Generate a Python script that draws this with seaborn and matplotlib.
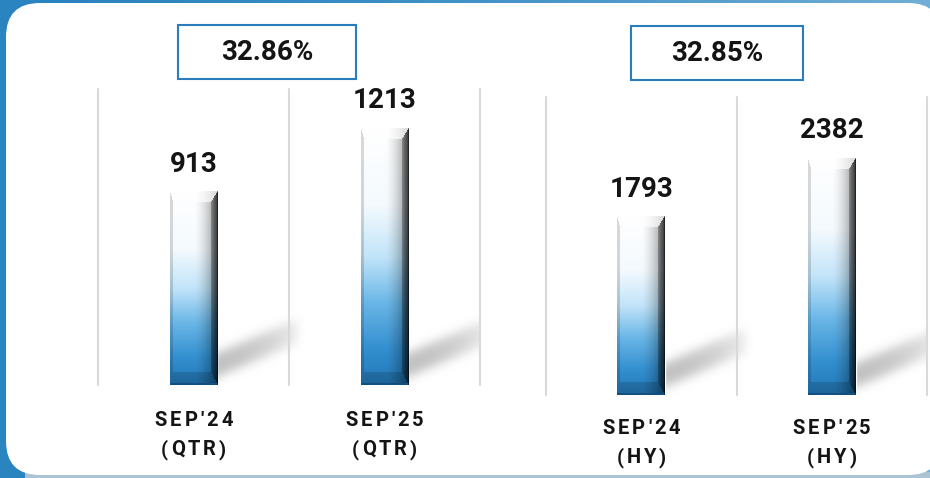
import numpy as np
import pandas as pd
import matplotlib
matplotlib.use("Agg")
import matplotlib.pyplot as plt
from matplotlib.colors import to_rgb
from matplotlib.patches import FancyBboxPatch, Rectangle
import seaborn as sns

# ---- data -------------------------------------------------------------
qtr_labels = ["SEP'24", "SEP'25"]
qtr_periods = ["(QTR)", "(QTR)"]
qtr_values = [913, 1213]

hy_labels = ["SEP'24", "SEP'25"]
hy_periods = ["(HY)", "(HY)"]
hy_values = [1793, 2382]

# ---- figure -----------------------------------------------------------
W, H, DPI = 930, 478, 100
sns.set_theme(style="white")
plt.rcParams["font.family"] = ["Roboto", "DejaVu Sans"]

fig = plt.figure(figsize=(W / DPI, H / DPI), dpi=DPI)

# full-figure pixel canvas for the frame, panel and growth boxes
bg = fig.add_axes([0, 0, 1, 1], zorder=-5)
bg.set_xlim(0, W)
bg.set_ylim(H, 0)
bg.set_axis_off()
ramp = np.linspace(0, 1, 256)[None, :, None] ** 1.6
c0, c1 = np.array(to_rgb("#2a84bf")), np.array(to_rgb("#72aed6"))
bg.imshow(c0 + (c1 - c0) * ramp, extent=(0, W, H, 0), aspect="auto", zorder=0)
bg.set_xlim(0, W)
bg.set_ylim(H, 0)
bg.add_patch(Rectangle((25, 472), W, 8, fc="#aac4d6", ec="none", zorder=1))
bg.add_patch(FancyBboxPatch((6, 3), 936, 472,
                            boxstyle="round,pad=0,rounding_size=34",
                            fc="white", ec="none", zorder=2))


def px_axes(x0, x1, ytop, ybot):
    return fig.add_axes([x0 / W, 1 - ybot / H, (x1 - x0) / W, (ybot - ytop) / H])


FACE_STOPS = [0.0, 0.30, 0.50, 0.68, 0.86, 1.0]
FACE_COLS = ["#ffffff", "#f4fafe", "#c2e4f9", "#6ab6e7", "#338fcf", "#2277b6"]


def bar_image(h, w):
    """Bevelled glass-style bar face, h x w pixels."""
    yy = (np.arange(h) + 0.5)[:, None] * np.ones((1, w))
    xx = np.ones((h, 1)) * (np.arange(w) + 0.5)[None, :]
    v = yy / h
    u = xx / w
    cols = np.array([to_rgb(c) for c in FACE_COLS])
    face = np.stack([np.interp(v, FACE_STOPS, cols[:, k]) for k in range(3)], axis=-1)
    shade = 1 - 0.45 * np.clip((u - 0.5) / 0.5, 0, 1) ** 1.6
    face = face * shade[..., None]

    bl, br, bt, bb = 3.0, 7.0, 11.0, 13.0
    d = np.stack([xx / bl, (w - xx) / br, yy / bt, (h - yy) / bb])
    k = d.argmin(0)
    m = d.min(0)
    out = face.copy()
    edge = m < 1
    sel = edge & (k == 0)
    out[sel] = face[sel] * 0.85
    sel = edge & (k == 1)
    out[sel] = face[sel] * (0.38 + 0.35 * m[sel])[:, None]
    sel = edge & (k == 2)
    out[sel] = face[sel] * 0.35 + 0.65
    sel = edge & (k == 3)
    out[sel] = face[sel] * 0.85
    out[-2:, :] = np.array(to_rgb("#134f80"))
    out[:, -1:] = out[:, -1:] * 0.6
    return np.clip(out, 0, 1)


def blur(a, sigma):
    r = int(3 * sigma)
    t = np.arange(-r, r + 1)
    k = np.exp(-0.5 * (t / sigma) ** 2)
    k /= k.sum()
    a = np.apply_along_axis(lambda s: np.convolve(s, k, mode="same"), 0, a)
    a = np.apply_along_axis(lambda s: np.convolve(s, k, mode="same"), 1, a)
    return a


def shadow_image(wpx, hpx, x_bar):
    """Soft diagonal floor shadow; x_bar = bar's right edge column."""
    yy = np.arange(hpx)[:, None] + 0.5
    xx = np.arange(wpx)[None, :] + 0.5
    dx = xx - x_bar
    centre = (hpx - 22) - 0.42 * dx
    band = (np.abs(yy - centre) < 12) & (dx > -8) & (dx < 82)
    alpha = blur(band.astype(float), 5.0) * 0.42
    alpha *= np.clip(1 - (np.clip(dx, 0, None) / 95) ** 2, 0, 1)
    img = np.zeros((hpx, wpx, 4))
    img[..., :3] = 0.42
    img[..., 3] = alpha
    return img


def spaced_text(x_px, y_px, s, size, gap):
    """Letter-spaced bold text centred on x_px with baseline at y_px (image px)."""
    renderer = fig.canvas.get_renderer()
    widths = []
    for ch in s:
        t = fig.text(0, 0, ch, fontsize=size, fontweight="bold")
        widths.append(t.get_window_extent(renderer=renderer).width)
        t.remove()
    total = sum(widths) + gap * (len(s) - 1)
    x = x_px - total / 2
    for ch, w in zip(s, widths):
        fig.text(x / W, 1 - y_px / H, ch, fontsize=size, fontweight="bold",
                 color="#141414", ha="left", va="baseline")
        x += w + gap


def draw_panel(ax, labels, periods, values, ymax, base1, base2):
    df = pd.DataFrame({"period": labels, "value": values})
    sns.barplot(data=df, x="period", y="value", ax=ax, width=0.25,
                color="#2d86c4", saturation=1, errorbar=None, zorder=2)
    ax.set_xlim(-0.5, 1.5)
    ax.set_ylim(0, ymax)
    ax.set_axis_off()
    for xv in (-0.5, 0.5, 1.5):
        ax.axvline(xv, color="#d9d9d9", lw=1.5, zorder=1.5, clip_on=False)

    inv = ax.transData.inverted()
    for p in ax.patches:
        x0, y0 = p.get_x(), 0
        x1, y1 = p.get_x() + p.get_width(), p.get_height()
        (dx0, dy0), (dx1, dy1) = ax.transData.transform([(x0, y0), (x1, y1)])

        # floor shadow
        sw, sh, pad = 100, 82, 10
        (sx0, sy0), (sx1, sy1) = inv.transform([(dx1 - pad, dy0 - 2),
                                                (dx1 - pad + sw, dy0 - 2 + sh)])
        ax.imshow(shadow_image(sw, sh, pad), extent=(sx0, sx1, sy0, sy1),
                  aspect="auto", interpolation="bilinear", zorder=1.2)

        # bevelled bar face
        img = bar_image(int(round(dy1 - dy0)), int(round(dx1 - dx0)))
        ax.imshow(img, extent=(x0, x1, y0, y1), aspect="auto",
                  interpolation="bilinear", zorder=3)

        cx = x0 + p.get_width() / 2
        ax.annotate(f"{p.get_height():.0f}", xy=(cx, p.get_height()),
                    xytext=(0, 14.5), textcoords="offset points",
                    ha="center", va="baseline", fontsize=20,
                    fontweight="bold", color="#141414", zorder=4)
    ax.set_xlim(-0.5, 1.5)
    ax.set_ylim(0, ymax)

    for i, (lab, per) in enumerate(zip(labels, periods)):
        cx_px = ax.transData.transform((i, 0))[0]
        spaced_text(cx_px, base1, lab, 14.5, 3.0)
        spaced_text(cx_px, base2, per, 14.5, 3.0)


ax_q = px_axes(98, 480, 89, 385)
ax_h = px_axes(546, 927, 97, 395)
draw_panel(ax_q, qtr_labels, qtr_periods, qtr_values, 1400, 426, 455)
draw_panel(ax_h, hy_labels, hy_periods, hy_values, 3000, 434, 463)

# growth boxes
for vals, (bx, by, bw, bh) in ((qtr_values, (178, 25, 178, 54)),
                               (hy_values, (631, 26, 172, 54))):
    growth = (vals[1] - vals[0]) / vals[0] * 100
    bg.add_patch(Rectangle((bx, by), bw, bh, fc="white", ec="#2a7dbd",
                           lw=1.5, zorder=3))
    bg.text(bx + bw / 2, by + bh / 2, f"{growth:.2f}%", ha="center",
            va="center", fontsize=20, fontweight="bold", color="#141414",
            zorder=4)

fig.savefig("out.png", dpi=DPI)
